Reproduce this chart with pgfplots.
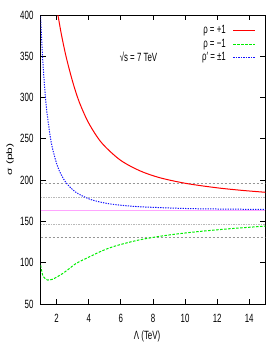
\documentclass[border=0pt]{standalone}
\usepackage{fontspec}
\setmainfont{Liberation Sans}
\usepackage{graphicx}
\usepackage{pgfplots}
\pgfplotsset{compat=1.18}
\newcommand{\nx}[1]{\scalebox{0.66}[1]{#1}}
\newcommand{\ny}[1]{\scalebox{1}[0.66]{#1}}
\definecolor{cred}{RGB}{255,0,0}
\definecolor{cgreen}{RGB}{0,238,0}
\definecolor{cblue}{RGB}{20,20,255}
\definecolor{cpink}{RGB}{255,165,255}
\definecolor{cgrayd}{RGB}{150,150,150}
\definecolor{cgrayl}{RGB}{185,185,185}
\begin{document}
\begin{tikzpicture}
\path[use as bounding box] (0,0) rectangle (277bp,346bp);
\begin{axis}[
  at={(40.6bp,42bp)}, anchor=south west,
  width=224.7bp, height=289bp, scale only axis,
  xmin=1, xmax=15, ymin=50, ymax=400,
  xtick={2,4,6,8,10,12,14},
  xticklabels={\nx{2},\nx{4},\nx{6},\nx{8},\nx{10},\nx{12},\nx{14}},
  ytick={50,100,150,200,250,300,350,400},
  yticklabels={\nx{50},\nx{100},\nx{150},\nx{200},\nx{250},\nx{300},\nx{350},\nx{400}},
  tick align=inside,
  major tick length=5bp,
  tick style={black, line width=0.8bp},
  axis line style={line width=1bp},
  tick label style={font=\fontsize{12}{14}\selectfont},
  yticklabel style={anchor=east, inner sep=0pt, xshift=-7bp},
  xticklabel style={anchor=north, inner sep=0pt, yshift=-10bp},
  xlabel={\nx{Λ (TeV)}},
  xlabel style={at={(axis description cs:0.474,-0.1107)}, anchor=center, font=\fontsize{12}{14}\selectfont},
  ylabel={\ny{σ (pb)}},
  ylabel style={at={(axis description cs:-0.136,0.5)}, anchor=center, font=\fontsize{12}{14}\selectfont},
  legend style={draw=none, fill=none, at={(axis description cs:0.9586,0.9664)}, anchor=north east,
    font=\fontsize{12}{14}\selectfont, row sep=2.4bp, inner sep=0pt,
    nodes={inner sep=0pt, text height=8.6bp, text depth=2.6bp}, column sep=7bp},
  legend cell align=right,
  legend plot pos=right,
  legend image code/.code={\draw[#1] (0bp,0bp) -- (22bp,0bp);},
]
\addplot[cgrayd, line width=0.7bp, dash pattern=on 2.5bp off 1.5bp, forget plot] coordinates {(1,196.3) (15,196.3)};
\addplot[cgrayl, line width=0.7bp, dash pattern=on 1.5bp off 1bp, forget plot] coordinates {(1,179) (15,179)};
\addplot[cgrayl, line width=0.7bp, dash pattern=on 1.5bp off 1bp, forget plot] coordinates {(1,146.9) (15,146.9)};
\addplot[cgrayd, line width=0.7bp, dash pattern=on 2.5bp off 1.5bp, forget plot] coordinates {(1,130.5) (15,130.5)};
\addplot[cpink, line width=1bp, forget plot] coordinates {(1,163.7) (15,163.7)};
\addplot[cred, line width=1bp, smooth] coordinates {
(2.08,400) (2.3,376) (2.6,348.6) (3.0,319) (3.41,294.5) (4.0,269) (4.8,245.3) (5.95,224.5)
(7.2,211.2) (8.45,202.8) (10.1,195.9) (12,190.7) (13.5,187.7) (15,185.3)};
\addlegendentry{\nx{ρ = +1}}
\addplot[cgreen, line width=1bp, smooth, dash pattern=on 2.5bp off 1.5bp] coordinates {
(1.0,97) (1.13,85) (1.3,80.5) (1.44,79) (1.6,79.3) (1.75,80) (2.0,82.5) (2.38,87) (2.8,93)
(3.2,99) (4.03,107) (4.87,114.7) (5.7,120.5) (7.19,127.8) (9,133.6) (10.93,137.9) (13,141.5) (15,144.3)};
\addlegendentry{\nx{ρ = −1}}
\addplot[cblue, line width=1bp, smooth, dash pattern=on 1.3bp off 1.2bp] coordinates {
(1.0,398) (1.13,346.5) (1.34,292.1) (1.65,247) (2.0,219.75) (2.17,211.1) (2.58,197.05) (3.2,185.3)
(4.03,177.2) (4.87,172.8) (5.7,170.25) (7.19,167.77) (9.9,165.73) (12,165.04) (15,164.51)};
\addlegendentry{\nx{ρ′ = ±1}}
\node[anchor=base, font=\fontsize{12}{14}\selectfont] at (axis cs:7.10,343.8) {\nx{√s = 7 TeV}};
\end{axis}
\end{tikzpicture}
\end{document}
